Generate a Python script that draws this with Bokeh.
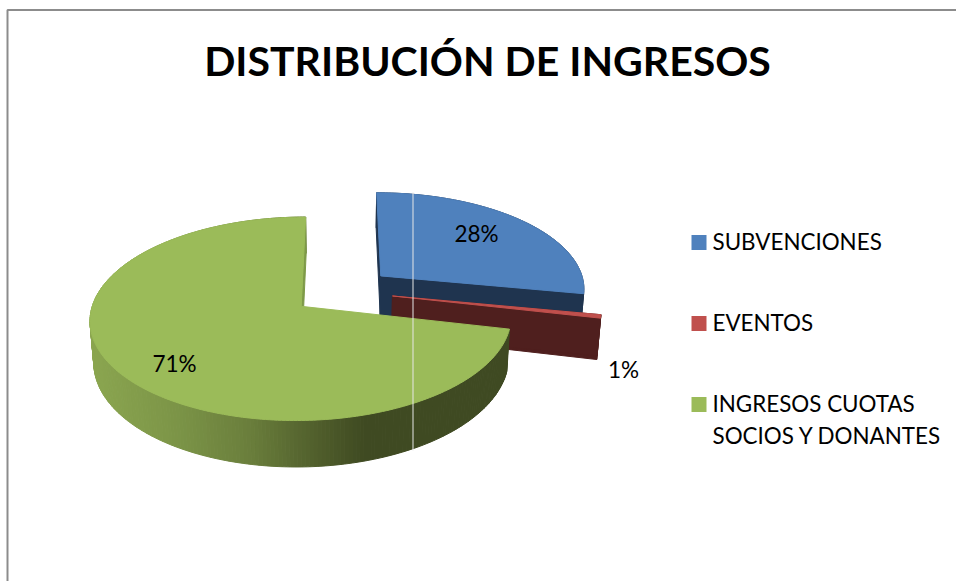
import numpy as np
from bokeh.plotting import figure
from bokeh.models import Range1d
from bokeh.core.properties import value
from bokeh.embed import file_html
from bokeh.resources import INLINE

TITLE = "DISTRIBUCIÓN DE INGRESOS"
categories = ["SUBVENCIONES", "EVENTOS", "INGRESOS CUOTAS\nSOCIOS Y DONANTES"]
values = [28.0, 0.55, 71.45]
top_colors = ["#4F81BD", "#C0504D", "#9BBB59"]
wall_colors = ["#1F344F", "#4F1F1E", "#3F4A22"]

FONT = "Lato"
cx, cy, A, B, k = 341.5, 290.5, 205.0, 96.5, 0.12
EXPLODE, H, SHRINK = 0.25, 40.0, 0.985


def P(X, Y):
    d = 1 + k * Y
    return cx + A * X / d, cy - B * Y / d


def drop(X, Y):
    x, y = P(X, Y)
    return cx + (x - cx) * SHRINK, y + H / (1 + k * Y)


p = figure(width=956, height=581, output_backend="svg", toolbar_location=None,
           x_range=Range1d(0, 956), y_range=Range1d(581, 0),
           min_border=0, outline_line_color=None)
p.xaxis.visible = False
p.yaxis.visible = False
p.grid.visible = False
p.background_fill_color = "white"
p.border_fill_color = "white"

total = sum(values)
fractions = [v / total for v in values]
starts = np.cumsum([0.0] + fractions[:-1]) * 2 * np.pi
ends = np.cumsum(fractions) * 2 * np.pi

for i in range(len(values)):
    a0, a1 = starts[i], ends[i]
    mid = (a0 + a1) / 2
    ex, ey = EXPLODE * np.sin(mid), EXPLODE * np.cos(mid)
    th = np.linspace(a0, a1, max(int((a1 - a0) * 60), 3))
    ax, ay = P(ex, ey)
    rx, ry = P(ex + np.sin(th), ey + np.cos(th))
    bx, by = drop(ex + np.sin(th), ey + np.cos(th))
    apx, apy = drop(ex, ey)

    if i == 2:
        stops_x = [90, 170, 250, 320, 365, 600]
        stops = np.array([[0x8B, 0xA6, 0x50], [0x7D, 0x96, 0x48], [0x6A, 0x7E, 0x3C],
                          [0x4F, 0x5D, 0x2B], [0x3F, 0x4A, 0x22], [0x3F, 0x4A, 0x22]], float)
        xs, ys, cols = [], [], []
        for j in range(len(th) - 1):
            xs.append([rx[j], rx[j + 1], bx[j + 1], bx[j]])
            ys.append([ry[j], ry[j + 1], by[j + 1], by[j]])
            xm = (rx[j] + rx[j + 1]) / 2
            c = [int(np.interp(xm, stops_x, stops[:, n])) for n in range(3)]
            cols.append("#%02X%02X%02X" % tuple(c))
        p.patches(xs, ys, fill_color=cols, line_color=cols, line_width=1)
        p.patch([ax, rx[-1], bx[-1], apx], [ay, ry[-1], by[-1], apy],
                fill_color="#7E9A48", line_color="#7E9A48", line_width=1)
    else:
        p.patch(list(rx) + list(bx[::-1]), list(ry) + list(by[::-1]),
                fill_color=wall_colors[i], line_color=wall_colors[i])
        p.patch([ax, rx[-1], bx[-1], apx], [ay, ry[-1], by[-1], apy],
                fill_color=wall_colors[i], line_color=wall_colors[i])
        p.patch([ax, rx[0], bx[0], apx], [ay, ry[0], by[0], apy],
                fill_color=wall_colors[i], line_color=wall_colors[i])
    p.patch([ax] + list(rx), [ay] + list(ry), fill_color=top_colors[i],
            line_color=top_colors[i], line_width=1)

p.segment([412.5], [192], [412.5], [450], line_color="#E6E6E6", line_width=1)

label_x = [476, 623, 174]
label_y = [233, 369, 363]
p.text(label_x, label_y, text=[f"{round(v)}%" for v in values], text_font=value(FONT),
       text_font_size="22.5px", text_color="black", text_align="center", text_baseline="middle")

p.text([487], [60], text=[TITLE], text_font=value(FONT), text_font_size="41px",
       text_font_style="bold", text_color="black", text_align="center", text_baseline="middle")

legend_y = [242, 323, 404]
p.rect([698.5] * 3, legend_y, width=15, height=15, fill_color=top_colors, line_color=None)
legend_lines_x, legend_lines_y, legend_lines = [], [], []
for c, y in zip(categories, legend_y):
    for n, line in enumerate(c.split("\n")):
        legend_lines_x.append(712)
        legend_lines_y.append(y - 1 + n * 32)
        legend_lines.append(line)
p.text(legend_lines_x, legend_lines_y, text=legend_lines, text_font=value(FONT),
       text_font_size="22.4px", text_color="black", text_align="left", text_baseline="middle")

p.line([7, 7, 956], [581, 9.5, 9.5], line_color="#8C8C8C", line_width=2)

open("out.html", "w").write(file_html(p, INLINE))
